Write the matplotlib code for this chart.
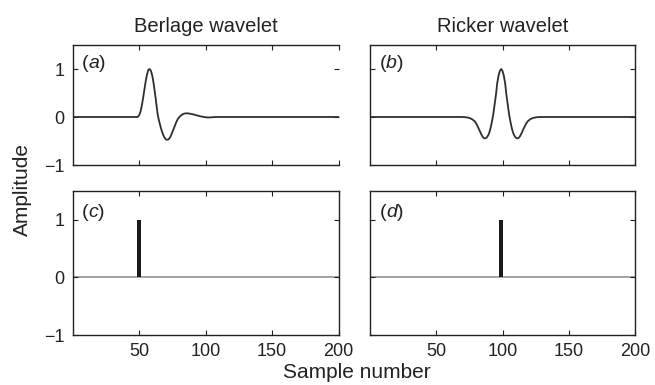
import matplotlib
matplotlib.use("Agg")
import matplotlib.pyplot as plt

plt.rcParams['font.family'] = ['Liberation Sans', 'DejaVu Sans']

# Berlage wavelet samples (sample number, amplitude)
berlage_x = [1, 48, 49, 50, 51, 52, 53, 54, 55, 56, 57, 58, 59, 60, 61, 62, 63, 64,
             65, 66, 67, 68, 69, 70, 71, 72, 73, 74, 75, 76, 77, 78, 79, 80, 81, 82,
             83, 84, 85, 86, 87, 88, 90, 92, 94, 96, 98, 100, 102, 104, 106, 108, 200]
berlage_y = [0.0, 0.0, 0.0, 0.03, 0.10, 0.22, 0.38, 0.56, 0.74, 0.88, 0.98, 1.0, 0.96,
             0.86, 0.70, 0.50, 0.28, 0.06, -0.07, -0.18, -0.28, -0.36, -0.42, -0.46,
             -0.475, -0.47, -0.44, -0.39, -0.32, -0.25, -0.18, -0.11, -0.05, -0.01,
             0.02, 0.04, 0.06, 0.07, 0.075, 0.077, 0.075, 0.07, 0.06, 0.045, 0.03,
             0.015, 0.005, -0.005, -0.01, -0.008, -0.003, 0.0, 0.0]

# Ricker wavelet samples (sample number, amplitude)
ricker_x = [1, 69, 71, 73, 75, 77, 79, 80, 81, 82, 83, 84, 85, 86, 87, 88, 89, 90, 91,
            92, 93, 94, 95, 96, 97, 98, 99, 100, 101, 102, 103, 104, 105, 106, 107,
            108, 109, 110, 111, 112, 113, 114, 115, 116, 117, 118, 119, 121, 123, 125,
            127, 129, 200]
ricker_y = [0.0, 0.0, -0.002, -0.008, -0.02, -0.045, -0.09, -0.13, -0.18, -0.24, -0.30,
            -0.36, -0.41, -0.44, -0.445, -0.43, -0.39, -0.33, -0.23, -0.10, 0.05, 0.25,
            0.45, 0.70, 0.86, 0.96, 1.0, 0.96, 0.86, 0.70, 0.45, 0.25, 0.05, -0.10,
            -0.23, -0.33, -0.39, -0.43, -0.445, -0.44, -0.41, -0.36, -0.30, -0.24,
            -0.18, -0.13, -0.09, -0.045, -0.02, -0.008, -0.002, 0.0, 0.0]

# Reflectivity spikes
spike_c_pos, spike_c_amp = 50, 1.0
spike_d_pos, spike_d_amp = 99, 1.0

titles = ["Berlage wavelet", "Ricker wavelet"]
panel_labels = ["a", "b", "c", "d"]
x_ticks = [50, 100, 150, 200]
y_ticks = [-1, 0, 1]
y_tick_labels = ["\u22121", "0", "1"]

W, H = 655, 385
fig = plt.figure(figsize=(W / 100, H / 100), dpi=100)


def px_axes(left, top, right, bottom):
    """Add an axes given its edges in pixels from the top-left corner."""
    return fig.add_axes([left / W, 1 - bottom / H, (right - left) / W, (bottom - top) / H])


ax_a = px_axes(72.5, 45, 338.5, 165)
ax_b = px_axes(370, 45, 635, 165)
ax_c = px_axes(72.5, 191, 338.5, 335)
ax_d = px_axes(370, 191, 635, 335)
axes = [ax_a, ax_b, ax_c, ax_d]

text_col = '#222222'
line_col = '#2e2e2e'
ax_a.plot(berlage_x, berlage_y, color=line_col, lw=1.3)
ax_b.plot(ricker_x, ricker_y, color=line_col, lw=1.3)

for ax, pos, amp in [(ax_c, spike_c_pos, spike_c_amp), (ax_d, spike_d_pos, spike_d_amp)]:
    ax.axhline(0, color='#8a8a8a', lw=1.1, zorder=1)
    ax.bar(pos, amp, width=3.4, bottom=0, color='#1a1a1a', zorder=2)

for i, ax in enumerate(axes):
    ax.set_xlim(0, 200)
    ax.set_ylim(-1, 1.5)
    ax.set_xticks(x_ticks)
    ax.set_yticks(y_ticks)
    ax.tick_params(direction='in', length=3.5, width=0.8, top=True, right=True,
                   labelsize=13, pad=6, colors=text_col)
    for s in ax.spines.values():
        s.set_color(text_col)
        s.set_linewidth(1.0)
    ax.set_yticklabels(y_tick_labels if i in (0, 2) else [])
    ax.set_xticklabels([str(t) for t in x_ticks] if i in (2, 3) else [])

ax_a.spines['right'].set_visible(False)

# Panel labels "(a)" etc. with an upright bracket and italic letter
fig.canvas.draw()
for ax, lab in zip(axes, panel_labels):
    x = 0.035
    for piece, style in (("(", 'normal'), (lab, 'italic'), (")", 'normal')):
        t = ax.text(x, 0.85, piece, transform=ax.transAxes, fontsize=14, style=style,
                    va='center', ha='left', color=text_col)
        fig.canvas.draw()
        bb = t.get_window_extent()
        x = ax.transAxes.inverted().transform((bb.x1, bb.y0))[0]

ax_a.set_title(titles[0], fontsize=14.5, pad=9, color=text_col)
ax_b.set_title(titles[1], fontsize=14.5, pad=9, color=text_col)

fig.text(22 / W, 1 - 190 / H, "Amplitude", rotation=90, ha='center', va='center',
         fontsize=15, color=text_col)
fig.text(357 / W, 1 - 372 / H, "Sample number", ha='center', va='center',
         fontsize=15, color=text_col)

fig.savefig("out.png", dpi=100)
